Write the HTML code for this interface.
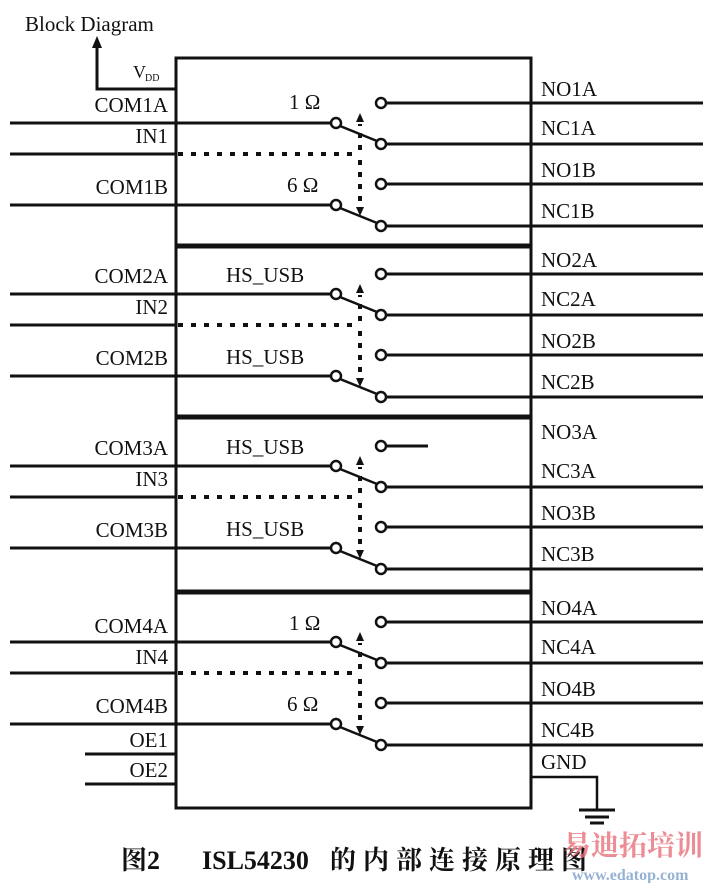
<!DOCTYPE html>
<html><head><meta charset="utf-8"><style>
html,body{margin:0;padding:0;background:#fff;}
svg{display:block;}
text{font-family:"Liberation Serif","Noto Serif CJK SC",serif;fill:#111;}
</style></head><body>
<svg width="712" height="883" viewBox="0 0 712 883" xmlns="http://www.w3.org/2000/svg">
<defs>
<g id="grp">
  <line x1="10" y1="123" x2="331" y2="123" stroke="#111" stroke-width="3"/>
  <circle cx="336" cy="123" r="5" fill="#fff" stroke="#111" stroke-width="2.5"/>
  <circle cx="381" cy="144" r="5" fill="#fff" stroke="#111" stroke-width="2.5"/>
  <line x1="386" y1="144" x2="703" y2="144" stroke="#111" stroke-width="3"/>
  <line x1="340" y1="126" x2="377" y2="141" stroke="#111" stroke-width="2.5"/>
  <line x1="10" y1="154" x2="176" y2="154" stroke="#111" stroke-width="3"/>
  <line x1="178" y1="154" x2="358" y2="154" stroke="#111" stroke-width="4" stroke-dasharray="5,8"/>
  <line x1="360" y1="150" x2="360" y2="124" stroke="#111" stroke-width="4" stroke-dasharray="5,7"/>
  <polygon points="360,113 356,122 364,122" fill="#111"/>
  <line x1="360" y1="160" x2="360" y2="206" stroke="#111" stroke-width="4" stroke-dasharray="5,7"/>
  <polygon points="360,216 356,207 364,207" fill="#111"/>
  <line x1="10" y1="205" x2="331" y2="205" stroke="#111" stroke-width="3"/>
  <circle cx="336" cy="205" r="5" fill="#fff" stroke="#111" stroke-width="2.5"/>
  <circle cx="381" cy="184" r="5" fill="#fff" stroke="#111" stroke-width="2.5"/>
  <line x1="386" y1="184" x2="703" y2="184" stroke="#111" stroke-width="3"/>
  <circle cx="381" cy="226" r="5" fill="#fff" stroke="#111" stroke-width="2.5"/>
  <line x1="386" y1="226" x2="703" y2="226" stroke="#111" stroke-width="3"/>
  <line x1="340" y1="208" x2="377" y2="223" stroke="#111" stroke-width="2.5"/>
</g>
<g id="noa">
  <circle cx="381" cy="103" r="5" fill="#fff" stroke="#111" stroke-width="2.5"/>
  <line x1="386" y1="103" x2="703" y2="103" stroke="#111" stroke-width="3"/>
</g>
</defs>

<text x="25" y="31" font-size="21">Block Diagram</text>
<polyline points="97,46 97,89 176,89" fill="none" stroke="#111" stroke-width="3"/>
<polygon points="97,36 92,48 102,48" fill="#111"/>
<text x="133" y="78" font-size="18">V</text><text x="145" y="81" font-size="10">DD</text>

<rect x="176" y="58" width="355" height="750" fill="none" stroke="#111" stroke-width="3"/>
<line x1="176" y1="246" x2="531" y2="246" stroke="#111" stroke-width="5"/>
<line x1="176" y1="417" x2="531" y2="417" stroke="#111" stroke-width="5"/>
<line x1="176" y1="592" x2="531" y2="592" stroke="#111" stroke-width="5"/>

<!-- group 1 -->
<use href="#grp"/><use href="#noa"/>
<g font-size="21" text-anchor="end">
<text x="168" y="112">COM1A</text><text x="168" y="143">IN1</text><text x="168" y="194">COM1B</text>
</g>
<g font-size="21">
<text x="541" y="96">NO1A</text><text x="541" y="135">NC1A</text><text x="541" y="177">NO1B</text><text x="541" y="218">NC1B</text>
<text x="289" y="109">1 Ω</text><text x="287" y="192">6 Ω</text>
</g>

<!-- group 2 -->
<g transform="translate(0,171)"><use href="#grp"/><use href="#noa"/>
<g font-size="21" text-anchor="end">
<text x="168" y="112">COM2A</text><text x="168" y="143">IN2</text><text x="168" y="194">COM2B</text>
</g>
<g font-size="21">
<text x="541" y="96">NO2A</text><text x="541" y="135">NC2A</text><text x="541" y="177">NO2B</text><text x="541" y="218">NC2B</text>
<text x="226" y="111">HS_USB</text><text x="226" y="193">HS_USB</text>
</g></g>

<!-- group 3 -->
<g transform="translate(0,343)"><use href="#grp"/>
<circle cx="381" cy="103" r="5" fill="#fff" stroke="#111" stroke-width="2.5"/>
<line x1="386" y1="103" x2="428" y2="103" stroke="#111" stroke-width="3"/>
<g font-size="21" text-anchor="end">
<text x="168" y="112">COM3A</text><text x="168" y="143">IN3</text><text x="168" y="194">COM3B</text>
</g>
<g font-size="21">
<text x="541" y="96">NO3A</text><text x="541" y="135">NC3A</text><text x="541" y="177">NO3B</text><text x="541" y="218">NC3B</text>
<text x="226" y="111">HS_USB</text><text x="226" y="193">HS_USB</text>
</g></g>

<!-- group 4 -->
<g transform="translate(0,519)"><use href="#grp"/><use href="#noa"/>
<g font-size="21" text-anchor="end">
<text x="168" y="114">COM4A</text><text x="168" y="145">IN4</text><text x="168" y="194">COM4B</text>
</g>
<g font-size="21">
<text x="541" y="96">NO4A</text><text x="541" y="135">NC4A</text><text x="541" y="177">NO4B</text><text x="541" y="218">NC4B</text>
<text x="289" y="111">1 Ω</text><text x="287" y="192">6 Ω</text>
</g></g>

<line x1="85" y1="754" x2="176" y2="754" stroke="#111" stroke-width="3"/>
<line x1="85" y1="784" x2="176" y2="784" stroke="#111" stroke-width="3"/>
<g font-size="21" text-anchor="end"><text x="168" y="747">OE1</text><text x="168" y="777">OE2</text></g>
<text x="541" y="769" font-size="21">GND</text>
<polyline points="531,777 597,777 597,810" fill="none" stroke="#111" stroke-width="2.5"/>
<line x1="579" y1="810" x2="615" y2="810" stroke="#111" stroke-width="3"/>
<line x1="585" y1="817" x2="609" y2="817" stroke="#111" stroke-width="3"/>
<line x1="590" y1="823" x2="604" y2="823" stroke="#111" stroke-width="3"/>

<text x="121" y="869" font-size="26" font-weight="bold">图2</text>
<text x="202" y="869" font-size="26" font-weight="bold">ISL54230</text>
<text x="330" y="869" font-size="26" font-weight="bold" letter-spacing="7">的内部连接原理图</text>
<text x="563" y="855" font-size="28" font-weight="bold" style="fill:#e8707a;opacity:0.8" font-family="Noto Sans CJK SC, sans-serif">易迪拓培训</text>
<text x="572" y="880" font-size="16" font-weight="bold" style="fill:#7da0c8;opacity:0.8" font-family="Liberation Sans, sans-serif">www.edatop.com</text>
</svg>
</body></html>
